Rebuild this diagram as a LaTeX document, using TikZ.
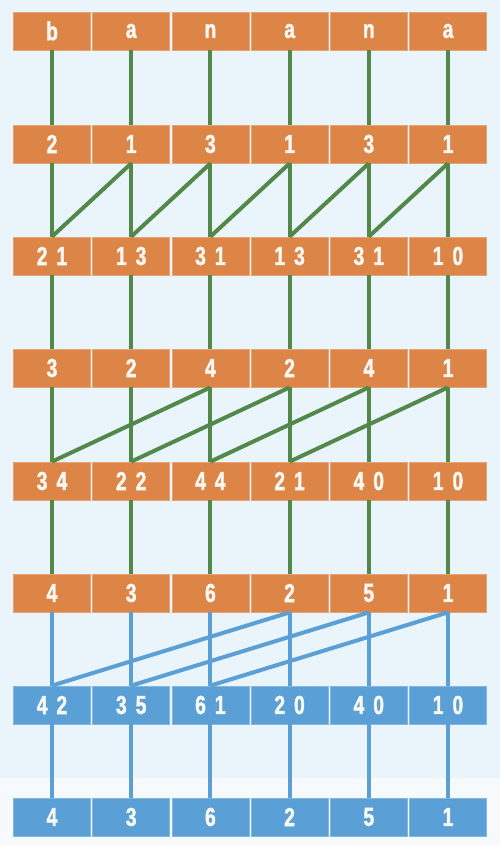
\documentclass[tikz,border=0pt]{standalone}
\usepackage{fontspec}
\setmainfont{Liberation Sans}[FakeStretch=0.74, BoldFeatures={FakeBold=1.6}]
\definecolor{bgc}{HTML}{EAF5FB}
\definecolor{snow}{HTML}{F6FAFD}
\definecolor{org}{HTML}{DD8447}
\definecolor{blu}{HTML}{5A9FD6}
\definecolor{grn}{HTML}{52894A}
\definecolor{txt}{HTML}{F8F8F2}
\tikzset{
  cell/.style={minimum width=77pt, minimum height=38pt, inner sep=0pt, text=txt,
     font=\fontsize{26}{26}\selectfont\bfseries},
  ocell/.style={cell, fill=org, draw=org!75!white, line width=0.8pt},
  bcell/.style={cell, fill=blu, draw=blu!75!white, line width=0.8pt},
  gline/.style={draw=grn, line width=4pt},
  bline/.style={draw=blu, line width=4pt},
}
\newcommand{\tw}[2]{#1\hspace{9pt}#2}
\begin{document}
\begin{tikzpicture}[x=1pt,y=-1pt]
\fill[bgc] (0,0) rectangle (500,845);
\fill[snow] (0,778) rectangle (500,845);
\useasboundingbox (0,0) rectangle (500,845);
% row nodes
\foreach \t [count=\i from 0] in {b,a,n,a,n,a} \node[ocell] (r1c\i) at ({52+79.2*\i},31) {\t};
\foreach \t [count=\i from 0] in {2,1,3,1,3,1} \node[ocell] (r2c\i) at ({52+79.2*\i},144) {\t};
\foreach \a/\b [count=\i from 0] in {2/1,1/3,3/1,1/3,3/1,1/0} \node[ocell] (r3c\i) at ({52+79.2*\i},256) {\tw{\a}{\b}};
\foreach \t [count=\i from 0] in {3,2,4,2,4,1} \node[ocell] (r4c\i) at ({52+79.2*\i},368) {\t};
\foreach \a/\b [count=\i from 0] in {3/4,2/2,4/4,2/1,4/0,1/0} \node[ocell] (r5c\i) at ({52+79.2*\i},481) {\tw{\a}{\b}};
\foreach \t [count=\i from 0] in {4,3,6,2,5,1} \node[ocell] (r6c\i) at ({52+79.2*\i},593) {\t};
\foreach \a/\b [count=\i from 0] in {4/2,3/5,6/1,2/0,4/0,1/0} \node[bcell] (r7c\i) at ({52+79.2*\i},705) {\tw{\a}{\b}};
\foreach \t [count=\i from 0] in {4,3,6,2,5,1} \node[bcell] (r8c\i) at ({52+79.2*\i},817) {\t};
% vertical connectors
\foreach \i in {0,...,5} {
  \draw[gline] (r1c\i.south) -- (r2c\i.north);
  \draw[gline] (r2c\i.south) -- (r3c\i.north);
  \draw[gline] (r3c\i.south) -- (r4c\i.north);
  \draw[gline] (r4c\i.south) -- (r5c\i.north);
  \draw[gline] (r5c\i.south) -- (r6c\i.north);
  \draw[bline] (r6c\i.south) -- (r7c\i.north);
  \draw[bline] (r7c\i.south) -- (r8c\i.north);
}
% diagonals
\foreach \i [evaluate=\i as \j using int(\i+1)] in {0,...,4}
  \draw[gline] (r3c\i.north) -- (r2c\j.south);
\foreach \i [evaluate=\i as \j using int(\i+2)] in {0,...,3}
  \draw[gline] (r5c\i.north) -- (r4c\j.south);
\foreach \i [evaluate=\i as \j using int(\i+3)] in {0,...,2}
  \draw[bline] (r7c\i.north) -- (r6c\j.south);
\end{tikzpicture}
\end{document}
